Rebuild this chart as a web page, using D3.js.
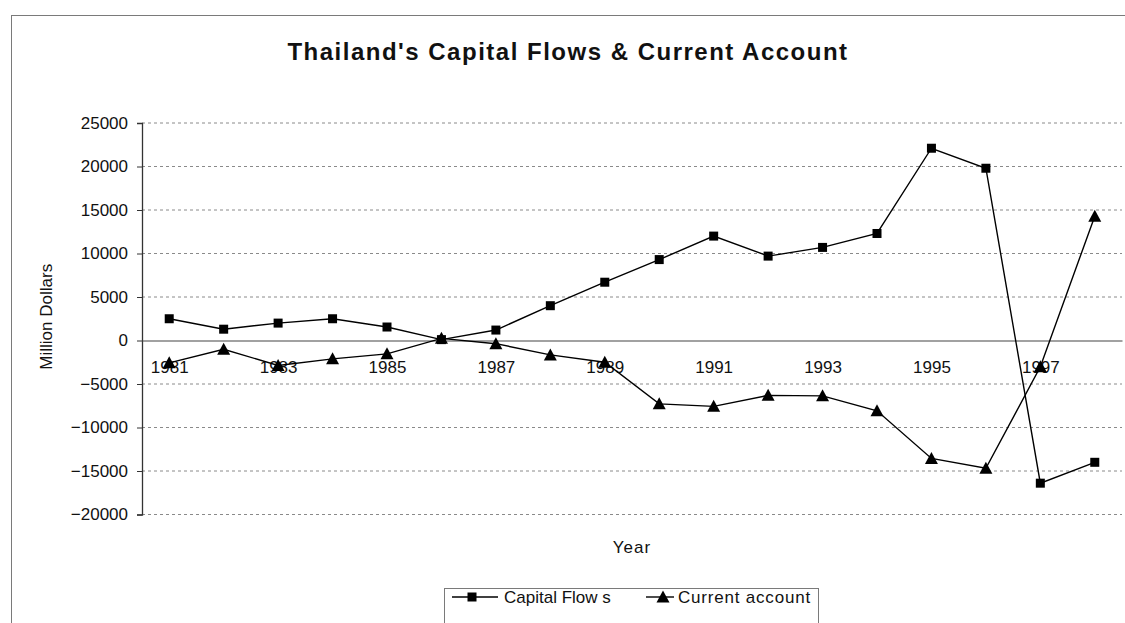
<!DOCTYPE html>
<html>
<head>
<meta charset="utf-8">
<script src="https://cdn.jsdelivr.net/npm/d3@7"></script>
<style>
  html, body { margin: 0; padding: 0; background: #fff; }
  svg { display: block; font-family: "Liberation Sans", Arial, sans-serif; }
</style>
</head>
<body>
<svg id="chart" width="1125" height="623"></svg>
<script>
// ---- data ----
const years = [1981,1982,1983,1984,1985,1986,1987,1988,1989,1990,1991,1992,1993,1994,1995,1996,1997,1998];
const capitalFlows = [2500,1300,2000,2500,1550,100,1200,4000,6700,9300,12000,9700,10700,12300,22100,19800,-16400,-14000];
const currentAccount = [-2570,-1003,-2873,-2109,-1537,247,-366,-1654,-2498,-7281,-7571,-6303,-6364,-8085,-13554,-14691,-3021,14291];
const yTicks = [-20000,-15000,-10000,-5000,0,5000,10000,15000,20000,25000];
const xTickLabels = [1981,1983,1985,1987,1989,1991,1993,1995,1997];
const seriesNames = ["Capital Flow s", "Current account"];
const titleText = "Thailand's Capital Flows & Current Account";

// ---- layout ----
const svg = d3.select("#chart");
const plot = { left: 142, right: 1122, top: 123, bottom: 514.5 };

const x = d3.scalePoint().domain(years).range([plot.left, plot.right]).padding(0.5);
const y = d3.scaleLinear().domain([-20000, 25000]).range([plot.bottom, plot.top]);

// outer chart frame
svg.append("rect")
  .attr("x", 11.5).attr("y", 15.5).attr("width", 1130).attr("height", 640)
  .attr("fill", "none").attr("stroke", "#7a7a7a").attr("stroke-width", 1);

// title
svg.append("text")
  .attr("x", 568).attr("y", 60)
  .attr("text-anchor", "middle")
  .attr("font-size", 24).attr("font-weight", "bold")
  .attr("letter-spacing", 1.5)
  .attr("fill", "#111")
  .text(titleText);

// gridlines
svg.append("g").selectAll("line")
  .data(yTicks.filter(d => d !== 0))
  .join("line")
  .attr("x1", plot.left).attr("x2", plot.right)
  .attr("y1", d => y(d)).attr("y2", d => y(d))
  .attr("stroke", "#8a8a8a").attr("stroke-width", 1)
  .attr("stroke-dasharray", "3,3");

// y axis
const yAxis = d3.axisLeft(y).tickValues(yTicks).tickSize(5).tickPadding(9).tickFormat(d3.format("d"));
const gy = svg.append("g").attr("transform", `translate(${plot.left},0)`).call(yAxis);
gy.select(".domain").attr("stroke", "#333").attr("stroke-width", 1.3);
gy.selectAll(".tick line").attr("stroke", "#333");
gy.selectAll(".tick text").attr("font-size", 17).attr("fill", "#111")
  .attr("font-family", "'Liberation Sans', Arial, sans-serif");

// zero line / category axis
const xAxis = d3.axisBottom(x).tickValues(xTickLabels).tickSize(0).tickPadding(20);
const gx = svg.append("g").attr("transform", `translate(0,${y(0)})`).call(xAxis);
gx.select(".domain").attr("stroke", "#444").attr("stroke-width", 1.2);
gx.selectAll(".tick text").attr("font-size", 17).attr("fill", "#111")
  .attr("font-family", "'Liberation Sans', Arial, sans-serif");

// axis titles
svg.append("text")
  .attr("transform", `translate(52,${(plot.top + plot.bottom) / 2 - 2}) rotate(-90)`)
  .attr("text-anchor", "middle").attr("font-size", 17).attr("fill", "#111")
  .text("Million Dollars");
svg.append("text")
  .attr("x", (plot.left + plot.right) / 2).attr("y", 553)
  .attr("text-anchor", "middle").attr("font-size", 17).attr("letter-spacing", 1)
  .attr("fill", "#111")
  .text("Year");

// lines
const lineGen = d3.line().x(d => x(d[0])).y(d => y(d[1]));
const capData = years.map((yr, i) => [yr, capitalFlows[i]]);
const caData = years.map((yr, i) => [yr, currentAccount[i]]);

svg.append("path").datum(capData).attr("d", lineGen)
  .attr("fill", "none").attr("stroke", "#000").attr("stroke-width", 1.4);
svg.append("path").datum(caData).attr("d", lineGen)
  .attr("fill", "none").attr("stroke", "#000").attr("stroke-width", 1.4);

const sq = 9;
const triPath = "M0,-6.5 L6.5,5.5 L-6.5,5.5 Z";

svg.append("g").selectAll("rect").data(capData).join("rect")
  .attr("x", d => x(d[0]) - sq / 2).attr("y", d => y(d[1]) - sq / 2)
  .attr("width", sq).attr("height", sq).attr("fill", "#000");

svg.append("g").selectAll("path").data(caData).join("path")
  .attr("d", triPath)
  .attr("transform", d => `translate(${x(d[0])},${y(d[1])})`)
  .attr("fill", "#000");

// legend
const lg = svg.append("g");
lg.append("rect").attr("x", 444.5).attr("y", 588.5).attr("width", 374).attr("height", 60)
  .attr("fill", "#fff").attr("stroke", "#7a7a7a").attr("stroke-width", 1);
const legY = 597;
// entry 1
lg.append("line").attr("x1", 452).attr("x2", 498).attr("y1", legY).attr("y2", legY)
  .attr("stroke", "#000").attr("stroke-width", 1.4);
lg.append("rect").attr("x", 472 - sq / 2).attr("y", legY - sq / 2).attr("width", sq).attr("height", sq).attr("fill", "#000");
lg.append("text").attr("x", 504).attr("y", legY + 6).attr("font-size", 17).attr("fill", "#111")
  .text(seriesNames[0]);
// entry 2
lg.append("line").attr("x1", 646).attr("x2", 674).attr("y1", legY).attr("y2", legY)
  .attr("stroke", "#000").attr("stroke-width", 1.4);
lg.append("path").attr("d", triPath).attr("transform", `translate(663,${legY})`).attr("fill", "#000");
lg.append("text").attr("x", 678).attr("y", legY + 6).attr("font-size", 17).attr("letter-spacing", 0.8).attr("fill", "#111")
  .text(seriesNames[1]);
</script>
</body>
</html>
